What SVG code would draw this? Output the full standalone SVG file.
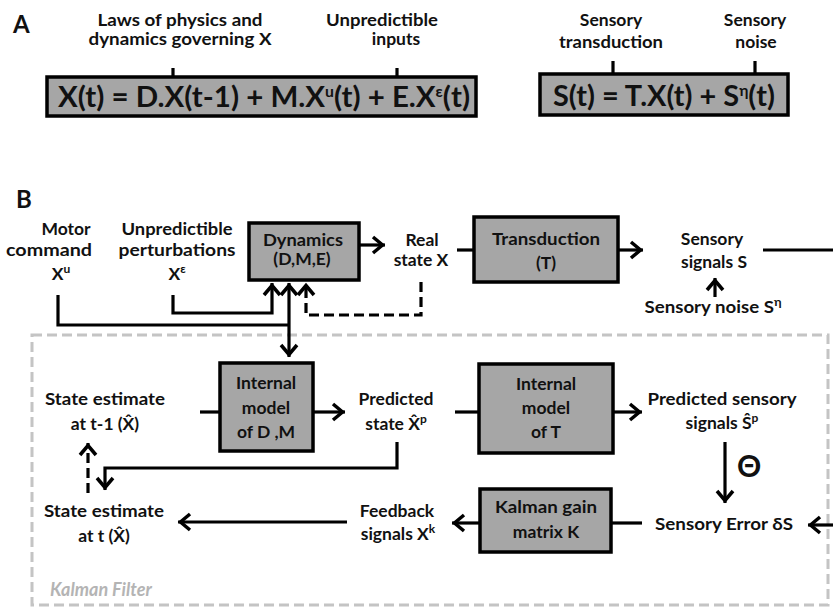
<svg xmlns="http://www.w3.org/2000/svg" width="833" height="607" viewBox="0 0 833 607">
<style>
text{font-family:Lato,"Noto Sans","Liberation Sans",sans-serif;font-weight:bold;fill:#111;text-anchor:middle}
.lbl{font-size:17.5px}
.eq{font-size:28px}
.panel{font-size:24px;text-anchor:start}
.box{fill:#a6a6a6;stroke:#000;stroke-width:3.5}
.ln{fill:none;stroke:#000;stroke-width:3.2}
.dash{stroke-dasharray:10 5}
.arr{marker-end:url(#ah)}
.kf{fill:none;stroke:#c4c4c4;stroke-width:3;stroke-dasharray:10 5}
.kft{font-size:18px;font-style:italic;fill:#b4b4b4;text-anchor:start}
</style>
<defs>
<marker id="ah" viewBox="-14 -10 16 20" refX="0" refY="0" markerWidth="16" markerHeight="20" markerUnits="userSpaceOnUse" orient="auto-start-reverse">
<path d="M-12,-8 L-2.5,0 L-12,8" fill="none" stroke="#000" stroke-width="3.5"/>
</marker>
</defs>
<rect width="833" height="607" fill="#fff"/>

<g id="panelA">
<text class="panel" x="13" y="33">A</text>
<g id="eq-dynamics">
<rect class="box" x="47" y="77" width="429" height="39"/>
<text class="eq" x="264" y="107" textLength="412" lengthAdjust="spacingAndGlyphs">X(t) = D.X(t-1) + M.X<tspan font-size="15" dy="-10">u</tspan><tspan dy="10">(t) + E.X</tspan><tspan font-size="15" dy="-10">ε</tspan><tspan dy="10">(t)</tspan></text>
</g>
<g id="label-laws">
<text class="lbl" x="180" y="26" textLength="165" lengthAdjust="spacingAndGlyphs">Laws of physics and</text>
<text class="lbl" x="180" y="45" textLength="183" lengthAdjust="spacingAndGlyphs">dynamics governing X</text>
</g>
<g id="label-unpred-inputs">
<text class="lbl" x="382" y="26" textLength="112" lengthAdjust="spacingAndGlyphs">Unpredictible</text>
<text class="lbl" x="396" y="45">inputs</text>
</g>
<g id="eq-sensory">
<rect class="box" x="540" y="74" width="248" height="41"/>
<text class="eq" x="664" y="106" textLength="222" lengthAdjust="spacingAndGlyphs">S(t) = T.X(t) + S<tspan font-size="15" dy="-10">η</tspan><tspan dy="10">(t)</tspan></text>
</g>
<g id="label-transduction">
<text class="lbl" x="611" y="26">Sensory</text>
<text class="lbl" x="611" y="48" textLength="104" lengthAdjust="spacingAndGlyphs">transduction</text>
</g>
<g id="label-noise">
<text class="lbl" x="755" y="26">Sensory</text>
<text class="lbl" x="756" y="48">noise</text>
</g>
</g>

<text class="panel" x="16" y="208">B</text>

<rect id="kalman-filter" class="kf" x="32" y="335" width="796" height="270"/>
<text class="kft" x="50" y="596">Kalman Filter</text>

<g id="connectors">
<path class="ln" d="M173,68V77M397,68V77M613,61V74M755,61V74"/>
<path class="ln" d="M58,295V325H289"/>
<path class="ln arr" d="M173,295V313H272V283"/>
<path class="ln arr" d="M289,357V283" style="marker-start:url(#ah)"/>
<path class="ln dash arr" d="M421,282V315H306V283"/>
<path class="ln arr" d="M360,245H385"/>
<path class="ln" d="M457,250H474"/>
<path class="ln arr" d="M618,250H643"/>
<path class="ln" d="M763,250H833"/>
<path class="ln arr" d="M715,297V278"/>
<path class="ln" d="M200,412H220"/>
<path class="ln arr" d="M313,412H345"/>
<path class="ln" d="M455,412H479"/>
<path class="ln arr" d="M613,412H642"/>
<path class="ln arr" d="M397,442V468H105V490"/>
<path class="ln dash arr" d="M88,493V443"/>
<path class="ln arr" d="M725,442V503"/>
<path class="ln arr" d="M833,525H808"/>
<path class="ln" d="M642,523H611"/>
<path class="ln arr" d="M480,523H452"/>
<path class="ln arr" d="M347,522H178"/>
</g>

<g id="motor-command">
<text class="lbl" x="66" y="235">Motor</text>
<text class="lbl" x="49" y="256" textLength="86" lengthAdjust="spacingAndGlyphs">command</text>
<text class="lbl" x="61" y="280">X<tspan font-size="12" dy="-7">u</tspan></text>
</g>
<g id="perturbations">
<text class="lbl" x="177" y="235" textLength="111" lengthAdjust="spacingAndGlyphs">Unpredictible</text>
<text class="lbl" x="177" y="256" textLength="117" lengthAdjust="spacingAndGlyphs">perturbations</text>
<text class="lbl" x="177" y="280">X<tspan font-size="12" dy="-7">ε</tspan></text>
</g>
<g id="dynamics">
<rect class="box" x="249" y="223" width="110" height="57"/>
<text class="lbl" x="303" y="246" textLength="80" lengthAdjust="spacingAndGlyphs">Dynamics</text>
<text class="lbl" x="302" y="265">(D,M,E)</text>
</g>
<g id="real-state">
<text class="lbl" x="422" y="246">Real</text>
<text class="lbl" x="421" y="266">state X</text>
</g>
<g id="transduction">
<rect class="box" x="474" y="217" width="144" height="65"/>
<text class="lbl" x="546" y="245" textLength="108" lengthAdjust="spacingAndGlyphs">Transduction</text>
<text class="lbl" x="546" y="269">(T)</text>
</g>
<g id="sensory-signals">
<text class="lbl" x="712" y="245">Sensory</text>
<text class="lbl" x="714" y="268">signals S</text>
</g>
<g id="sensory-noise">
<text class="lbl" x="713" y="313" textLength="137" lengthAdjust="spacingAndGlyphs">Sensory noise S<tspan font-size="12" dy="-7">η</tspan></text>
</g>
<g id="state-estimate-prev">
<text class="lbl" x="105" y="405" textLength="120" lengthAdjust="spacingAndGlyphs">State estimate</text>
<text class="lbl" x="105" y="430">at t-1 (X̂)</text>
</g>
<g id="internal-model-dm">
<rect class="box" x="220" y="363" width="93" height="88"/>
<text class="lbl" x="266" y="389">Internal</text>
<text class="lbl" x="266" y="414">model</text>
<text class="lbl" x="266" y="438">of D ,M</text>
</g>
<g id="predicted-state">
<text class="lbl" x="396" y="405">Predicted</text>
<text class="lbl" x="396" y="430">state X̂<tspan font-size="12" dy="-7">p</tspan></text>
</g>
<g id="internal-model-t">
<rect class="box" x="479" y="364" width="134" height="89"/>
<text class="lbl" x="546" y="390">Internal</text>
<text class="lbl" x="546" y="414">model</text>
<text class="lbl" x="546" y="438">of T</text>
</g>
<g id="predicted-sensory">
<text class="lbl" x="722" y="405" textLength="149" lengthAdjust="spacingAndGlyphs">Predicted sensory</text>
<text class="lbl" x="722" y="429">signals Ŝ<tspan font-size="12" dy="-7">p</tspan></text>
</g>
<g id="minus-sign">
<text x="749" y="477" font-size="30px">Θ</text>
</g>
<g id="sensory-error">
<text class="lbl" x="724" y="530" textLength="138" lengthAdjust="spacingAndGlyphs">Sensory Error δS</text>
</g>
<g id="kalman-gain">
<rect class="box" x="480" y="489" width="131" height="63"/>
<text class="lbl" x="546" y="513" textLength="102" lengthAdjust="spacingAndGlyphs">Kalman gain</text>
<text class="lbl" x="546" y="538">matrix K</text>
</g>
<g id="feedback">
<text class="lbl" x="397" y="517">Feedback</text>
<text class="lbl" x="398" y="540">signals X<tspan font-size="12" dy="-7">k</tspan></text>
</g>
<g id="state-estimate-now">
<text class="lbl" x="104" y="517" textLength="120" lengthAdjust="spacingAndGlyphs">State estimate</text>
<text class="lbl" x="104" y="542">at t (X̂)</text>
</g>
</svg>
